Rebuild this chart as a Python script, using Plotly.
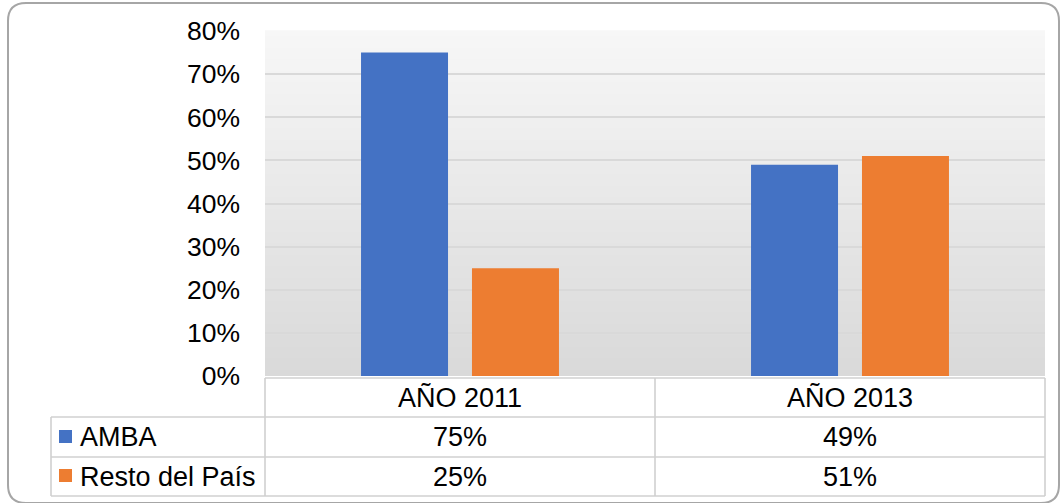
import plotly.graph_objects as go

categories = ["AÑO 2011", "AÑO 2013"]
series_names = ["AMBA", "Resto del País"]
amba = [0.75, 0.49]
resto = [0.25, 0.51]
series_values = [amba, resto]
colors = ["#4472C4", "#ED7D31"]
tick_vals = [0, 0.1, 0.2, 0.3, 0.4, 0.5, 0.6, 0.7, 0.8]
tick_text = ["0%", "10%", "20%", "30%", "40%", "50%", "60%", "70%", "80%"]

W, H = 1063, 503
FONT = "Liberation Sans, Arial, sans-serif"
FS = 27


def px(x):
    return x / W


def py(y):
    return 1 - y / H


fig = go.Figure()
for name, vals, col in zip(series_names, series_values, colors):
    fig.add_trace(go.Bar(x=categories, y=vals, name=name, marker=dict(color=col, line=dict(width=0)),
                         hoverinfo="skip"))

shapes = []
# gradient plot background
n = 60
for i in range(n):
    t = i / (n - 1)
    v = int(round(247 - (247 - 217) * t))
    shapes.append(dict(type="rect", xref="x domain", yref="y domain", x0=0, x1=1,
                       y0=1 - (i + 1) / n, y1=1 - i / n + 0.002, layer="below",
                       fillcolor=f"rgb({v},{v},{v})", line=dict(width=0)))

# table lines
LC = "#d0d0d0"
LW = 1.6
def hline(y, x0, x1):
    shapes.append(dict(type="line", xref="paper", yref="paper", x0=px(x0), x1=px(x1), y0=py(y), y1=py(y),
                       line=dict(color=LC, width=LW)))
def vline(x, y0, y1):
    shapes.append(dict(type="line", xref="paper", yref="paper", x0=px(x), x1=px(x), y0=py(y0), y1=py(y1),
                       line=dict(color=LC, width=LW)))

hline(378, 265, 1045)
hline(417, 51, 1045)
hline(457, 51, 1045)
hline(496, 51, 1045)
vline(51, 417, 496)
vline(265, 378, 496)
vline(655, 378, 496)
vline(1045, 378, 496)

# legend keys
for (y0, y1), col in zip([(430, 443), (469, 482)], colors):
    shapes.append(dict(type="rect", xref="paper", yref="paper", x0=px(59), x1=px(72), y0=py(y1), y1=py(y0),
                       fillcolor=col, line=dict(width=0)))

# rounded outer border
x0, y0, x1, y1, r = 8, 3, 1059, 503, 18
pts = [
    ("M", x0 + r, y0), ("L", x1 - r, y0), ("Q", x1, y0, x1, y0 + r), ("L", x1, y1 - r),
    ("Q", x1, y1, x1 - r, y1), ("L", x0 + r, y1), ("Q", x0, y1, x0, y1 - r), ("L", x0, y0 + r),
    ("Q", x0, y0, x0 + r, y0),
]
path = ""
for p in pts:
    cmd = p[0]
    coords = p[1:]
    s = " ".join(f"{px(coords[k]):.5f},{py(coords[k+1]):.5f}" for k in range(0, len(coords), 2))
    path += f"{cmd}{s} "
path += "Z"
shapes.append(dict(type="path", xref="paper", yref="paper", path=path, line=dict(color="#a6a6a6", width=2)))

annotations = []
row_y = [437, 476.5]
for c in categories:
    annotations.append(dict(x=c, xref="x", y=py(397.5), yref="paper", text=c, showarrow=False,
                            font=dict(size=FS, color="#000000", family=FONT), xanchor="center", yanchor="middle"))
for name, vals, ry in zip(series_names, series_values, row_y):
    annotations.append(dict(x=px(78), xref="paper", y=py(ry), yref="paper", text=name, showarrow=False,
                            font=dict(size=FS, color="#000000", family=FONT), xanchor="left", yanchor="middle"))
    for c, v in zip(categories, vals):
        annotations.append(dict(x=c, xref="x", y=py(ry), yref="paper", text=f"{round(v*100)}%", showarrow=False,
                                font=dict(size=FS, color="#000000", family=FONT), xanchor="center", yanchor="middle"))

fig.update_layout(
    width=W, height=H,
    autosize=False,
    margin=dict(l=0, r=0, t=0, b=0, pad=0, autoexpand=False),
    paper_bgcolor="#ffffff",
    plot_bgcolor="rgba(0,0,0,0)",
    showlegend=False,
    barmode="group",
    bargap=0.431,
    bargroupgap=0.216,
    font=dict(family=FONT, size=FS, color="#000000"),
    xaxis=dict(domain=[px(265), px(1045)], range=[-0.5, 1.5], showticklabels=False, showgrid=False,
               zeroline=False, showline=False, ticks="", automargin=False),
    yaxis=dict(domain=[py(376), py(31)], range=[0, 0.8], tickvals=tick_vals, ticktext=tick_text,
               showgrid=True, gridcolor="#d9d9d9", gridwidth=1.5, zeroline=False, showline=False,
               ticks="", ticklabelstandoff=24, automargin=False,
               tickfont=dict(size=26.5, color="#000000", family=FONT)),
    shapes=shapes,
    annotations=annotations,
)

post = """
document.documentElement.style.margin='0';
document.documentElement.style.padding='0';
document.documentElement.style.overflow='hidden';
document.body.style.margin='0';
document.body.style.padding='0';
document.body.style.overflow='hidden';
var gd = document.getElementById('{plot_id}');
gd.style.position='fixed';
gd.style.left='0px';
gd.style.top='0px';
"""

fig.write_html("out.html", post_script=post, config={"displayModeBar": False})
